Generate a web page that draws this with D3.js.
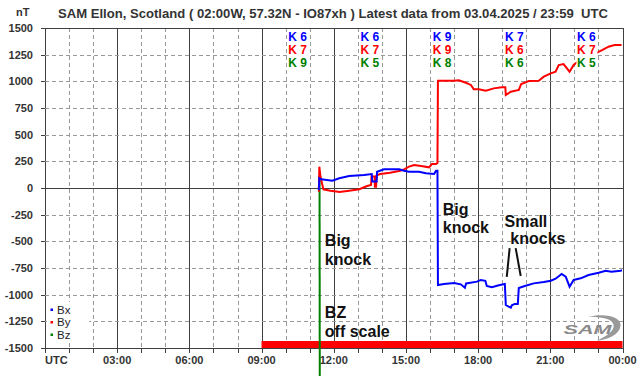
<!DOCTYPE html>
<html>
<head>
<meta charset="utf-8">
<script src="https://cdn.jsdelivr.net/npm/d3@7"></script>
<style>
  body { margin: 0; background: #fff; }
  text { font-family: Arial, "Liberation Sans", sans-serif; }
</style>
</head>
<body>
<div id="chart-area"></div>
<script>
// Data (hour of day UTC, nT)
const bxData = [
  [11.38, -20], [11.40, 92], [11.48, 82], [11.94, 68], [12.23, 91], [12.64, 112],
  [13.26, 122], [13.58, 131], [13.60, 60], [13.78, 60], [13.80, 153], [14.09, 175],
  [14.72, 175], [14.92, 162], [15.13, 153], [15.54, 153], [15.83, 138], [16.17, 131],
  [16.25, 162], [16.31, 162], [16.33, -909], [16.58, -900], [17.00, -890], [17.28, -903],
  [17.45, -935], [17.50, -895], [17.62, -890], [17.95, -878], [18.11, -862], [18.30, -870],
  [18.36, -919], [18.57, -931], [18.86, -912], [19.11, -900], [19.15, -1097], [19.27, -1112],
  [19.36, -1122], [19.40, -1100], [19.52, -1087], [19.65, -1087], [19.69, -937], [19.94, -919],
  [20.31, -894], [20.73, -881], [21.02, -869], [21.22, -850], [21.47, -806], [21.64, -831],
  [21.80, -925], [21.97, -862], [22.26, -847], [22.59, -816], [23.01, -794], [23.30, -775],
  [23.54, -785], [23.92, -775], [23.98, -772]
]
const byData = [
  [11.38, -35], [11.40, 200], [11.45, 105], [11.57, -12], [11.86, -25], [12.18, -35],
  [12.23, -37], [12.64, -25], [13.06, -12], [13.39, 19], [13.55, 28], [13.57, 106],
  [13.70, 110], [13.71, 12], [13.76, 12], [13.78, 118], [13.93, 131], [14.34, 143],
  [14.76, 162], [14.92, 175], [15.13, 200], [15.34, 216], [15.63, 206], [15.96, 194],
  [16.08, 225], [16.25, 225], [16.31, 234], [16.33, 1006], [16.58, 1006], [17.00, 1006],
  [17.20, 1010], [17.49, 987], [17.70, 966], [17.82, 925], [18.03, 925], [18.32, 912],
  [18.65, 934], [18.98, 944], [19.13, 944], [19.15, 872], [19.36, 903], [19.69, 919],
  [19.79, 975], [20.11, 1003], [20.52, 1006], [20.73, 1044], [21.02, 1075], [21.22, 1090],
  [21.35, 1153], [21.55, 1162], [21.80, 1090], [21.97, 1153], [22.14, 1184], [22.39, 1190],
  [22.59, 1200], [22.80, 1219], [22.92, 1266], [23.17, 1294], [23.42, 1325], [23.67, 1340],
  [23.96, 1340]
]
const bzData = [[11.41, 80], [11.42, -2000]]
const bzOffScale = [9, 24]

// K indices per 3 hour block
const kBlocks = [10.5, 13.5, 16.5, 19.5, 22.5]
const kBx = [6, 6, 9, 7, 6]
const kBy = [7, 7, 9, 6, 7]
const kBz = [9, 5, 8, 6, 5]

// Ticks
const yTicks = d3.range(-1500, 1501, 250)
const xHours = d3.range(0, 25)
const xTickHours = [0, 3, 6, 9, 12, 15, 18, 21, 24]
const xTickLabels = ["UTC", "03:00", "06:00", "09:00", "12:00", "15:00", "18:00", "21:00", "00:00"]

const title = "SAM Ellon, Scotland ( 02:00W, 57.32N - IO87xh ) Latest data from 03.04.2025 / 23:59  UTC"

// Config
const width = 642, height = 376
const colors = {bx: "#0000ff", by: "#ff0000", bz: "#008000"}

const svg = d3.select("#chart-area")
  .append("svg")
    .attr("width", width)
    .attr("height", height)

// Scales
const x = d3.scaleLinear().domain([0, 24]).range([45, 622.5])
const y = d3.scaleLinear().domain([-1500, 1500]).range([348, 28])

// Grid
const grid = svg.append("g").attr("shape-rendering", "crispEdges")
grid.selectAll(".vgrid").data(xHours).join("line")
  .attr("x1", d => Math.round(x(d)) + 0.5).attr("x2", d => Math.round(x(d)) + 0.5)
  .attr("y1", y(1500)).attr("y2", y(-1500))
  .attr("stroke", d => d % 3 === 0 ? "#404040" : "#999")
  .attr("stroke-dasharray", d => d % 3 === 0 ? null : "4,3")
grid.selectAll(".hgrid").data(yTicks).join("line")
  .attr("x1", x(0)).attr("x2", x(24))
  .attr("y1", d => Math.round(y(d)) + 0.5).attr("y2", d => Math.round(y(d)) + 0.5)
  .attr("stroke", d => (d === 0 || Math.abs(d) === 1500) ? "#404040" : "#999")
  .attr("stroke-dasharray", d => (d === 0 || Math.abs(d) === 1500) ? null : "4,3")

// Tick marks
grid.selectAll(".ytick").data(yTicks).join("line")
  .attr("x1", x(0) - 4).attr("x2", x(0))
  .attr("y1", d => Math.round(y(d)) + 0.5).attr("y2", d => Math.round(y(d)) + 0.5)
  .attr("stroke", "#404040")
grid.selectAll(".xtick").data(xHours).join("line")
  .attr("x1", d => Math.round(x(d)) + 0.5).attr("x2", d => Math.round(x(d)) + 0.5)
  .attr("y1", y(-1500)).attr("y2", y(-1500) + 5)
  .attr("stroke", "#404040")

// Axis labels
svg.selectAll(".ylab").data(yTicks).join("text")
  .attr("x", 33).attr("y", d => y(d) + 4)
  .attr("text-anchor", "end")
  .attr("font-size", 11).attr("font-weight", "bold").attr("fill", "#333")
  .text(d => d)
svg.selectAll(".xlab").data(xTickHours).join("text")
  .attr("x", d => x(d)).attr("y", 364)
  .attr("text-anchor", (d, i) => i === 0 ? "start" : "middle")
  .attr("font-size", 11).attr("font-weight", "bold").attr("fill", "#333")
  .text((d, i) => xTickLabels[i])

svg.append("text").attr("x", 16).attr("y", 16)
  .attr("font-size", 11).attr("font-weight", "bold").attr("fill", "#333").text("nT")
svg.append("text").attr("x", 58).attr("y", 18)
  .attr("font-size", 13).attr("font-weight", "bold").attr("fill", "#333")
  .attr("textLength", 550).attr("lengthAdjust", "spacingAndGlyphs")
  .style("white-space", "pre")
  .text(title)

// Bz off scale bar
svg.append("rect")
  .attr("x", x(bzOffScale[0])).attr("width", x(bzOffScale[1]) - x(bzOffScale[0]))
  .attr("y", y(-1500) - 7).attr("height", 7)
  .attr("fill", "#ff0000")

// Lines
const line = d3.line().x(d => x(d[0])).y(d => y(d[1]))
const series = [[bzData, colors.bz], [byData, colors.by], [bxData, colors.bx]]
series.forEach(([data, color]) => {
  svg.append("path")
    .attr("d", line(data))
    .attr("fill", "none")
    .attr("stroke", color)
    .attr("stroke-width", 2)
})

// K index boxes
const kRows = [[kBx, colors.bx, 41], [kBy, colors.by, 54], [kBz, colors.bz, 66.5]]
const kg = svg.append("g")
kg.selectAll("rect").data(kBlocks).join("rect")
  .attr("x", d => x(d - 0.5) + 2).attr("width", x(1) - x(0) - 3)
  .attr("y", 30).attr("height", 39)
  .attr("fill", "#fff")
kRows.forEach(([vals, color, yy]) => {
  kg.selectAll(null).data(kBlocks).join("text")
    .attr("x", d => x(d)).attr("y", yy)
    .attr("text-anchor", "middle")
    .attr("font-size", 12).attr("font-weight", "bold")
    .attr("fill", color)
    .text((d, i) => "K " + vals[i])
})

// Legend
const legendItems = [["Bx", colors.bx], ["By", colors.by], ["Bz", colors.bz]]
svg.append("rect").attr("x", 47).attr("y", 302).attr("width", 42).attr("height", 40).attr("fill", "#fff")
legendItems.forEach(([name, color], i) => {
  svg.append("rect").attr("x", 50.5).attr("y", 308.5 + i * 12.5).attr("width", 2.5).attr("height", 2.5).attr("fill", color)
  svg.append("text").attr("x", 57).attr("y", 313.5 + i * 12.5)
    .attr("font-size", 11.5).attr("fill", "#222").text(name)
})

// Annotations
const notes = [
  [11.63, -544, ["Big", "knock"]],
  [11.63, -1222, ["BZ", "off scale"]],
  [16.53, -253, ["Big", "knock"]]
]
notes.forEach(([h, v, lines]) => {
  const t = svg.append("text").attr("x", x(h)).attr("y", y(v))
    .attr("font-size", 16).attr("font-weight", "bold").attr("fill", "#111")
  lines.forEach((s, i) => t.append("tspan").attr("x", x(h)).attr("dy", i === 0 ? 0 : 18.5).text(s))
})
svg.append("text").attr("x", x(19.10)).attr("y", y(-363))
  .attr("font-size", 16).attr("font-weight", "bold").attr("fill", "#111").text("Small")
svg.append("text").attr("x", x(19.34)).attr("y", y(-525))
  .attr("font-size", 16).attr("font-weight", "bold").attr("fill", "#111").text("knocks")
const pointers = [[[19.31, -563], [19.19, -834]], [[19.56, -563], [19.77, -825]]]
pointers.forEach(p => {
  svg.append("line")
    .attr("x1", x(p[0][0])).attr("y1", y(p[0][1]))
    .attr("x2", x(p[1][0])).attr("y2", y(p[1][1]))
    .attr("stroke", "#111").attr("stroke-width", 2)
})

// SAM logo
const logo = svg.append("g").attr("transform", "translate(" + x(21.55) + "," + y(-1330) + ")")
logo.append("path")
  .attr("d", "M24,-13 C40,-17 58,-14 57,-4 C56,5 44,10 33,11 C45,6 51,0 50,-5 C49,-11 38,-13 24,-13 Z")
  .attr("fill", "#999")
logo.append("text").attr("x", 0).attr("y", 4)
  .attr("font-size", 12).attr("font-weight", "bold").attr("font-style", "italic")
  .attr("fill", "#8a8a8a").attr("textLength", 48).attr("lengthAdjust", "spacingAndGlyphs")
  .text("SAM")
</script>
</body>
</html>
